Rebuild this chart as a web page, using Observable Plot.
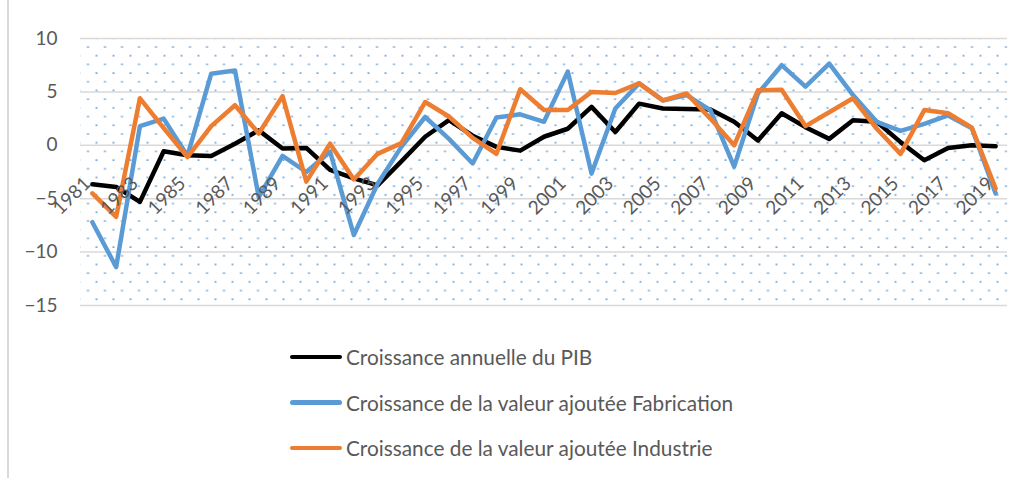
<!DOCTYPE html>
<html><head><meta charset="utf-8">
<script src="https://cdn.jsdelivr.net/npm/d3@7"></script>
<script src="https://cdn.jsdelivr.net/npm/@observablehq/plot@0.6"></script>
<style>
body{margin:0;background:#fff;font-family:Lato,sans-serif;}
#wrap{position:relative;width:1032px;height:478px;overflow:hidden;background:#fff}
#border{position:absolute;left:7px;top:0;width:2px;height:478px;background:#d9d9d9}
#chart{position:absolute;left:0;top:0}
#legend{position:absolute;left:290px;top:334px;color:#595959;font-size:20.8px;font-family:Lato,sans-serif}
.item{display:flex;align-items:center;height:45.5px;white-space:nowrap}
.sw{width:52px;height:4.5px;border-radius:2.5px;margin-right:4px}
</style></head><body><div id="wrap"><div id="border"></div><div id="chart"></div><div id="legend"></div></div>
<script>
const years = [1981,1982,1983,1984,1985,1986,1987,1988,1989,1990,1991,1992,1993,1994,1995,1996,1997,1998,1999,2000,2001,2002,2003,2004,2005,2006,2007,2008,2009,2010,2011,2012,2013,2014,2015,2016,2017,2018,2019];
const pib = [-3.65,-3.9,-5.3,-0.56,-0.94,-1.0,0.15,1.4,-0.3,-0.25,-2.3,-3.1,-3.75,-1.5,0.8,2.35,0.9,-0.15,-0.5,0.8,1.55,3.6,1.25,3.9,3.45,3.4,3.35,2.2,0.45,3.0,1.7,0.6,2.35,2.2,0.3,-1.4,-0.25,0.0,-0.1];
const fabrication = [-7.2,-11.4,1.8,2.5,-1.0,6.7,7.0,-4.85,-1.0,-2.5,-0.6,-8.4,-3.6,-0.15,2.65,0.6,-1.7,2.6,2.9,2.2,6.9,-2.65,3.45,5.8,4.2,4.7,3.3,-2.0,4.85,7.5,5.5,7.65,4.7,2.2,1.35,2.0,2.8,1.6,-4.5];
const industrie = [-4.5,-6.7,4.4,1.6,-1.1,1.8,3.75,1.1,4.6,-3.4,0.15,-3.2,-0.8,0.2,4.05,2.7,0.7,-0.8,5.25,3.3,3.3,5.0,4.9,5.8,4.2,4.85,2.5,0.0,5.15,5.2,1.8,3.1,4.4,1.55,-0.8,3.3,3.0,1.65,-4.05];
const seriesNames = ["Croissance annuelle du PIB","Croissance de la valeur ajoutée Fabrication","Croissance de la valeur ajoutée Industrie"];
const seriesColors = ["#000000","#5b9bd5","#ed7d31"];
const yTicks = [-15,-10,-5,0,5,10];
const xTickLabels = [1981,1983,1985,1987,1989,1991,1993,1995,1997,1999,2001,2003,2005,2007,2009,2011,2013,2015,2017,2019];

const allSeries = [pib, fabrication, industrie];
const rows = [];
allSeries.forEach((vals, s) => vals.forEach((v, i) => rows.push({year: years[i], value: v, series: seriesNames[s]})));

const lineMarks = seriesNames.map((name, s) =>
  Plot.line(rows.filter(d => d.series === name), {x: "year", y: "value", stroke: seriesColors[s], strokeWidth: 4.5, strokeLinejoin: "round", strokeLinecap: "round"})
);

const svg = Plot.plot({
  width: 1032, height: 330,
  marginLeft: 80, marginRight: 25, marginTop: 38, marginBottom: 25,
  style: {fontFamily: "Lato, sans-serif", fontSize: "18px", color: "#595959", background: "transparent", overflow: "visible"},
  x: {type: "linear", domain: [1980.5, 2019.5], axis: null},
  y: {domain: [-15, 10], axis: null},
  marks: [
    Plot.frame({fill: "url(#dots)", stroke: "none"}),
    Plot.ruleY(yTicks, {stroke: "#d9d9d9", strokeWidth: 1.5}),
    Plot.axisY(yTicks, {tickSize: 0, tickPadding: 23, fontSize: 19, fill: "#595959", label: null}),
    ...lineMarks,
    Plot.text(xTickLabels, {x: d => d, y: 0, text: d => String(d), rotate: -45, textAnchor: "end", lineAnchor: "middle", dx: -5, dy: 35, fontSize: 19, fill: "#595959"})
  ]
});
const ns = "http://www.w3.org/2000/svg";
const defs = document.createElementNS(ns, "defs");
defs.innerHTML = `<pattern id="dots" patternUnits="userSpaceOnUse" width="17" height="17.4"><rect x="1.5" y="11" width="2" height="1.4" fill="#5b9bd5"/><rect x="10" y="2.3" width="2" height="1.4" fill="#5b9bd5"/></pattern>`;
svg.insertBefore(defs, svg.firstChild);
document.getElementById("chart").appendChild(svg);

const legend = document.getElementById("legend");
seriesNames.forEach((name, s) => {
  const item = document.createElement("div");
  item.className = "item";
  item.innerHTML = `<span class="sw" style="background:${seriesColors[s]}"></span><span>${name}</span>`;
  legend.appendChild(item);
});
</script>
</body></html>
